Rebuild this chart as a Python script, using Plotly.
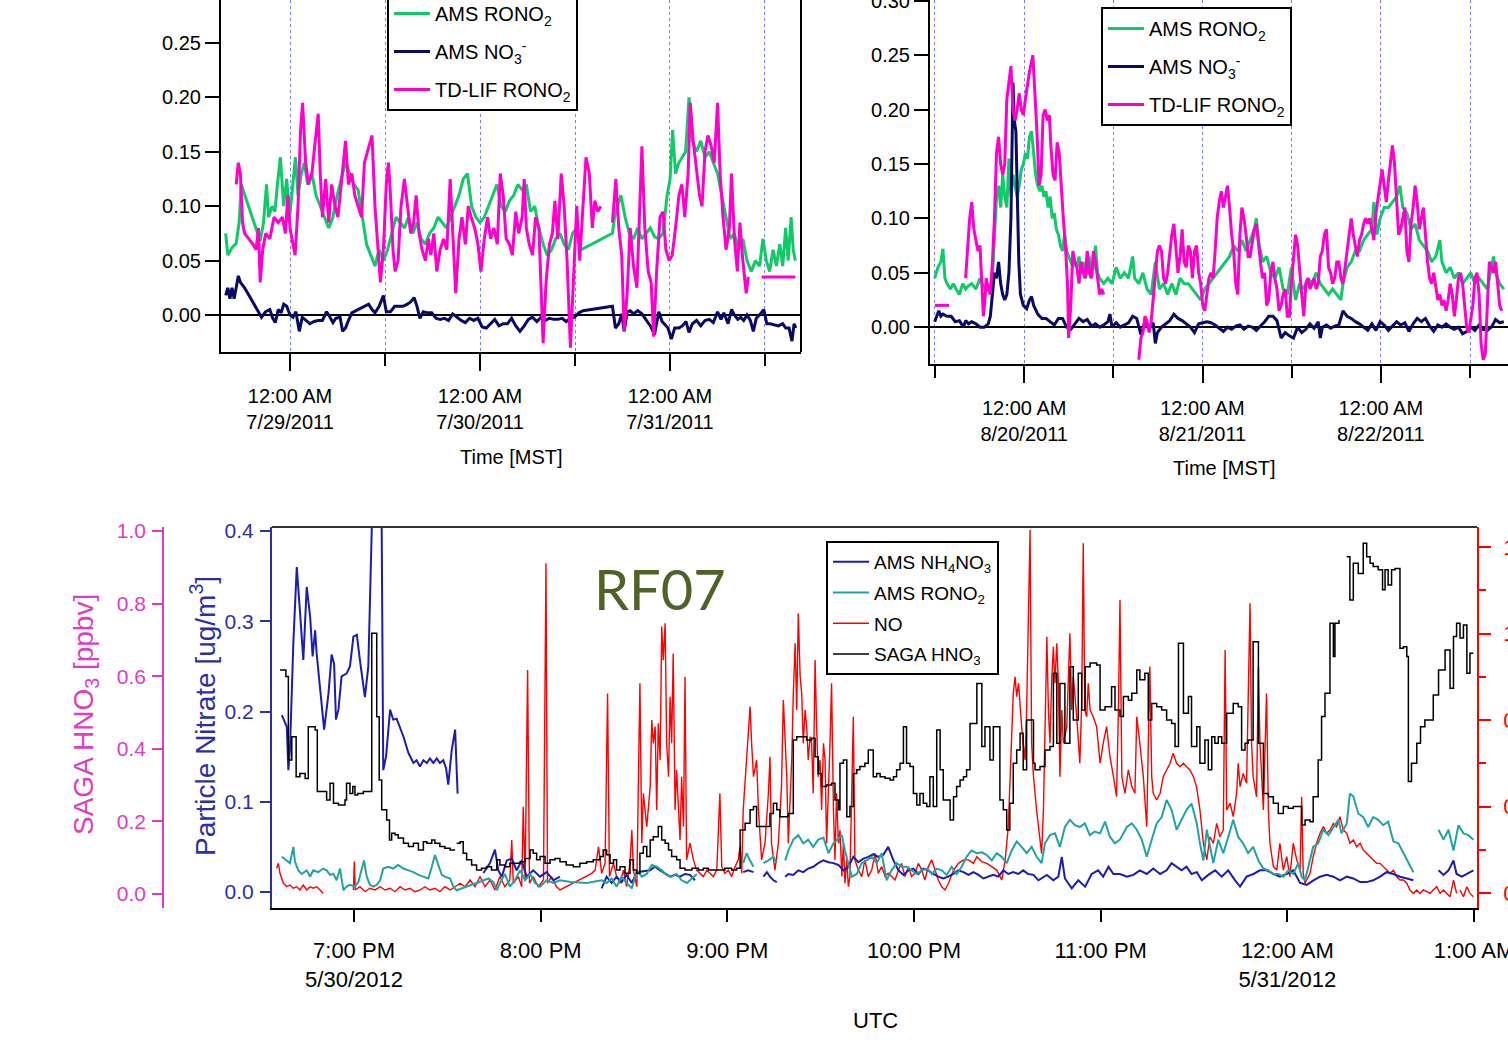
import plotly.graph_objects as go

W, H = 1508, 1045

SANS = "Liberation Sans, Arial, Helvetica, sans-serif"

GREEN = "#10CA68"
NAVY = "#0A0A66"
MAGENTA = "#FF00CC"
GRID = "#7A7AFF"
NH4_BLUE = "#1C1CB0"
TEAL = "#22A3A3"
NO_RED = "#FF0000"
HNO3_BLACK = "#000000"
PINK_AX = "#E03CC2"
BLUE_AX = "#2E2EA6"
RF_GREEN = "#4F6228"

# ---------------------------------------------------------------------------
# July 2011 ground site: hours after 12:00 AM 7/29/2011 (MST), ug/m3
# ---------------------------------------------------------------------------
jul_t_rono2 = [
    -8.13, -7.86, -7.33, -6.80, -6.43, -6.16, -3.77, -3.35, -2.97, -2.71, -2.28, -1.91, -1.59, -1.22, -0.80,
    -0.42, -0.05, 0.37, 0.69, 1.01, 1.43, 1.81, 2.23,
    2.76, 3.29, 3.82, 4.35, 4.89, 5.42, 5.95, 6.48, 7.01, 7.54, 8.07, 8.60, 9.13, 9.67, 10.20, 10.73, 11.26,
    11.79, 12.32, 12.85, 13.38, 13.91, 14.45, 14.98, 15.51, 16.04, 16.57, 17.10, 17.63, 18.16, 18.69, 19.23,
    19.76, 20.29, 20.82, 21.35, 21.88, 22.41, 22.94, 23.47, 24.00, 24.54, 25.07, 25.60, 26.13, 26.66, 27.19,
    27.72, 28.25, 28.78, 29.32, 29.85, 30.38, 30.91, 31.44, 31.97, 32.50, 33.03, 33.56, 34.10, 34.63, 35.16,
    35.69, 36.22, 36.75,
    40.73, 41.00, 41.37, 41.80, 42.33, 42.86, 43.39, 43.92, 44.45, 44.98, 45.51, 46.04, 46.57, 47.11, 47.64,
    48.01, 48.33, 48.70, 49.12, 49.55, 49.97, 50.40, 50.82, 51.35, 51.88, 52.42, 52.95, 53.48, 54.01, 54.54,
    55.07, 55.60, 56.13, 56.67, 57.20, 57.73, 58.26, 58.79, 59.32, 59.74, 60.17, 60.59, 61.02, 61.44, 61.87,
    62.24, 62.61, 62.93, 63.30, 63.57, 63.83,
]
jul_ams_rono2 = [
    0.075, 0.055, 0.062, 0.066, 0.085, 0.12, 0.068, 0.085, 0.12, 0.09, 0.10, 0.095, 0.12, 0.145, 0.10,
    0.125, 0.09, 0.12, 0.145, 0.11, 0.13, 0.14, 0.12,
    0.13, 0.11, 0.10, 0.09, 0.08, 0.09, 0.11, 0.125, 0.14, 0.13, 0.12, 0.115, 0.09, 0.065, 0.055, 0.045, 0.06,
    0.05, 0.06, 0.075, 0.09, 0.085, 0.08, 0.09, 0.075, 0.085, 0.07, 0.065, 0.075, 0.08, 0.09, 0.085,
    0.08, 0.09, 0.10, 0.11, 0.125, 0.13, 0.10, 0.09, 0.085, 0.09, 0.10, 0.11, 0.12, 0.10, 0.095,
    0.105, 0.11, 0.12, 0.115, 0.12, 0.095, 0.10, 0.08, 0.065, 0.055, 0.06, 0.07, 0.075, 0.065, 0.06,
    0.075, 0.08, 0.06,
    0.075, 0.09, 0.10, 0.11, 0.09, 0.075, 0.07, 0.08, 0.07, 0.075, 0.08, 0.072, 0.07, 0.075, 0.11,
    0.125, 0.17, 0.13, 0.14, 0.145, 0.15, 0.20, 0.16, 0.15, 0.16, 0.145, 0.15, 0.14, 0.13, 0.11,
    0.09, 0.07, 0.075, 0.06, 0.07, 0.05, 0.04, 0.05, 0.045, 0.07, 0.05, 0.04, 0.06, 0.045, 0.065,
    0.045, 0.08, 0.05, 0.09, 0.06, 0.05,
]

jul_t_tdlif = [
    -6.80, -6.53, -6.27, -6.00, -5.74, -5.20, -4.67, -4.30, -3.98, -3.77,
    -3.45, -3.08, -2.55, -2.02, -1.49, -0.96, -0.58, -0.27, 0.00, 0.37,
    0.64, 1.01, 1.33, 1.59, 1.97, 2.34, 2.76, 3.19, 3.56, 3.82,
    4.09, 4.51, 4.89, 5.26, 5.68, 6.05, 6.48, 7.01, 7.38, 7.81,
    8.18, 8.60, 9.03, 9.40, 9.93, 10.36, 10.73, 11.10, 11.42, 11.79,
    12.16, 12.43, 12.69, 13.01, 13.28, 13.65, 14.02, 14.45, 14.82, 15.24,
    15.61, 15.93, 16.30, 16.68, 17.10, 17.47, 17.79, 18.16, 18.54, 18.96,
    19.39, 19.81, 20.23, 20.55, 20.93, 21.35, 21.72, 22.15, 22.52, 22.89,
    23.32, 23.74, 24.11, 24.54, 24.96, 25.33, 25.76, 26.18, 26.56, 26.93,
    27.30, 27.72, 28.09, 28.52, 28.89, 29.32, 29.58, 29.85, 30.22, 30.64,
    31.02, 31.44, 31.71, 31.97, 32.34, 32.77, 33.14, 33.46, 33.83, 34.26,
    34.63, 35.00, 35.42, 35.80, 36.22, 36.59, 37.02, 37.39, 37.81, 38.19,
    38.50, 38.88, 39.25,
    40.0,
    40.73, 41.16, 41.53, 41.90, 42.22, 42.59, 42.97, 43.39, 43.82, 44.19,
    44.45, 44.82, 45.25, 45.62, 45.94, 46.31, 46.74, 47.11, 47.48, 47.90,
    48.28, 48.70, 49.13, 49.50, 49.87, 50.29, 50.56, 50.93, 51.36, 51.73,
    52.05, 52.42, 52.79, 53.22, 53.59, 54.01, 54.33, 54.70, 55.08, 55.50,
    55.77, 56.14, 56.51, 56.83, 57.20, 57.63, 57.89,
    58.7,
    59.59, 63.84,
]
jul_tdlif_rono2 = [
    0.12, 0.14, 0.13, 0.085, 0.075, 0.07, 0.065, 0.06, 0.08, 0.03,
    0.06, 0.075, 0.07, 0.09, 0.085, 0.09, 0.075, 0.11, 0.08, 0.065,
    0.055, 0.10, 0.17, 0.195, 0.14, 0.12, 0.13, 0.16, 0.185, 0.13,
    0.09, 0.125, 0.085, 0.12, 0.10, 0.09, 0.12, 0.16, 0.12, 0.13,
    0.11, 0.10, 0.09, 0.14, 0.155, 0.165, 0.10, 0.06, 0.03, 0.06,
    0.12, 0.14, 0.11, 0.06, 0.04, 0.05, 0.10, 0.125, 0.10, 0.075,
    0.085, 0.11, 0.075, 0.06, 0.05, 0.07, 0.055, 0.075, 0.04, 0.06,
    0.07, 0.06, 0.125, 0.08, 0.02, 0.07, 0.09, 0.065, 0.10, 0.09,
    0.08, 0.065, 0.04, 0.07, 0.09, 0.07, 0.08, 0.065, 0.13, 0.11,
    0.07, 0.065, 0.055, 0.095, 0.075, 0.09, 0.125, 0.08, 0.065, 0.055,
    0.09, 0.08, 0.03, -0.026, 0.03, 0.065, 0.075, 0.105, 0.07, 0.13,
    0.10, 0.05, -0.03, 0.03, 0.10, 0.05, 0.10, 0.145, 0.13, 0.08,
    0.105, 0.095, 0.10,
    None,
    0.085, 0.125, 0.08, 0.055, -0.015, 0.02, 0.08, 0.045, 0.025, 0.11,
    0.155, 0.08, 0.04, 0.03, -0.02, 0.04, 0.09, 0.095, 0.06, 0.05,
    0.055, 0.08, 0.11, 0.12, 0.09, 0.13, 0.195, 0.16, 0.13, 0.11,
    0.10, 0.15, 0.165, 0.155, 0.14, 0.195, 0.13, 0.09, 0.06, 0.08,
    0.13, 0.07, 0.04, 0.085, 0.05, 0.02, 0.035,
    None,
    0.035, 0.035,
]

jul_t_no3 = [
    -8.13, -7.86, -7.59, -7.33, -7.06, -6.80, -6.53, -6.27, -5.74, -4.94,
    -4.14, -3.61, -3.08, -2.55, -2.18, -1.86, -1.49, -1.12, -0.80, -0.42,
    0.00, 0.37, 0.74, 1.17, 1.54, 1.97, 2.50, 3.03, 3.56, 4.09,
    4.62, 5.05, 5.42, 5.79, 6.32, 6.64, 7.01, 7.38, 7.81, 8.34,
    8.87, 9.40, 9.93, 10.36, 10.73, 11.26, 11.79, 12.16, 12.69, 13.22,
    13.76, 14.29, 14.82, 15.24, 15.67, 16.04, 16.41, 16.84, 17.37, 17.90,
    18.43, 18.96, 19.49, 20.02, 20.55, 21.08, 21.62, 22.15, 22.68, 23.21,
    23.74, 24.27, 24.80, 25.33, 25.86, 26.40, 26.93, 27.46, 27.99, 28.52,
    29.05, 29.58, 30.11, 30.64, 31.18, 31.71, 32.24, 32.77, 33.30, 33.83,
    34.36, 34.89, 35.42, 35.96, 36.49, 37.02, 38.08, 39.14, 40.20, 40.73,
    41.11, 41.53, 41.90, 42.22, 42.59, 42.97, 43.39, 43.92, 44.45, 44.98,
    45.52, 46.05, 46.58, 47.00, 47.37, 47.75, 48.17, 48.60, 49.13, 49.55,
    50.03, 50.40, 50.83, 51.36, 51.89, 52.42, 52.95, 53.48, 54.01, 54.44,
    54.81, 55.34, 55.77, 56.14, 56.56, 56.93, 57.31, 57.73, 58.15, 58.53,
    58.90, 59.32, 59.85, 60.23, 60.65, 61.18, 61.71, 62.24, 62.62, 63.04,
    63.41, 63.68, 63.89,
]
jul_ams_no3 = [
    0.018, 0.025, 0.015, 0.025, 0.015, 0.025, 0.036, 0.03, 0.025, 0.015,
    0.005, -0.002, 0.003, 0.005, -0.003, -0.007, 0.005, 0.002, 0.01, 0.008,
    0.0, -0.002, 0.003, -0.015, -0.002, -0.005, -0.008, -0.006, -0.005, -0.005,
    0.003, -0.002, -0.007, -0.003, -0.002, -0.015, -0.012, -0.005, 0.002, 0.004,
    0.006, 0.008, 0.01, 0.005, 0.002, 0.008, 0.018, 0.003, 0.003, 0.008,
    0.008, 0.008, 0.01, 0.012, 0.016, 0.008, -0.003, 0.003, 0.002, 0.002,
    -0.003, -0.004, -0.003, -0.005, 0.001, -0.002, -0.005, -0.007, -0.003, -0.005,
    -0.003, -0.011, -0.012, -0.008, -0.004, -0.01, -0.008, -0.008, -0.003, -0.01,
    -0.015, -0.01, -0.004, -0.002, -0.006, -0.002, -0.005, -0.003, -0.004, -0.004,
    -0.003, -0.006, -0.003, -0.002, 0.002, 0.004, 0.005, 0.006, 0.007, 0.008,
    -0.012, -0.008, 0.001, -0.015, 0.003, 0.004, 0.001, 0.004, 0.001, -0.004,
    -0.01, -0.018, 0.003, -0.006, -0.009, -0.012, -0.022, -0.012, -0.012, -0.01,
    -0.006, -0.016, -0.008, -0.005, -0.01, -0.005, -0.004, -0.007, 0.003, -0.004,
    0.002, -0.008, 0.005, 0.0, -0.004, -0.002, -0.005, 0.0, -0.005, -0.015,
    -0.003, 0.0, 0.005, -0.008, -0.008, -0.009, -0.01, -0.008, -0.012, -0.012,
    -0.024, -0.008, -0.012,
]

# ---------------------------------------------------------------------------
# August 2011 ground site: hours after 12:00 AM 8/20/2011 (MST), ug/m3
# ---------------------------------------------------------------------------
aug_t_rono2 = [
    -12.04, -11.60, -11.21, -10.93, -10.66, -10.38, -9.93, -9.55, -9.16, -8.71,
    -8.27, -7.88, -7.49, -7.05, -6.49, -5.94, -5.38, -4.83, -4.38, -4.16,
    -3.94, -3.72,
    -3.44, -3.16, -2.89, -2.61, -2.33, -2.05, -1.78, -1.50, -1.22, -0.94,
    -0.67, -0.39, -0.11, 0.17, 0.44, 0.72, 1.00, 1.28, 1.55, 1.83,
    2.11, 2.39, 2.66, 2.94, 3.22, 3.50, 3.77, 4.05, 4.33, 4.61,
    4.88, 5.16, 5.44, 5.72, 5.99, 6.27, 6.55, 6.83, 7.10, 7.38,
    7.66, 7.94, 8.21, 8.49, 8.77, 9.05, 9.32, 9.60,
    9.88, 10.16, 10.71, 11.27, 11.82, 12.38, 12.93, 13.49, 14.04, 14.60,
    14.87, 15.43, 15.98, 16.54, 17.09, 17.65, 18.20, 18.76, 19.31, 19.87,
    20.42, 20.98, 21.53, 22.09, 22.64, 23.20, 23.75, 24.31, 24.86, 25.42,
    25.97, 26.53, 27.08, 27.64, 28.19, 28.75, 29.30, 29.86, 30.41, 30.97,
    31.25, 31.52, 32.08, 32.63, 33.19, 33.74, 34.30, 34.85, 35.41, 35.96,
    36.52, 37.07, 37.63, 38.18, 38.74, 39.29, 39.85, 40.40, 40.96, 41.51,
    42.07, 42.62, 42.90, 43.46, 44.01, 44.57, 45.12, 45.68, 46.23, 46.79,
    47.06, 47.45, 47.90, 48.45, 49.01, 49.56, 50.12, 50.56, 50.95, 51.50,
    52.06, 52.61, 53.17, 53.72, 54.28, 54.83, 55.39, 55.94, 56.22, 56.78,
    57.33, 57.89, 58.44, 59.00, 59.55, 60.11, 60.66, 61.22, 61.77, 62.33,
    62.88, 63.16, 63.44, 63.99, 64.55,
]
aug_ams_rono2 = [
    0.045, 0.055, 0.06, 0.072, 0.045, 0.04, 0.035, 0.04, 0.035, 0.03,
    0.04, 0.035, 0.038, 0.04, 0.035, 0.045, 0.035, 0.04, 0.03, 0.06,
    0.09, 0.12,
    0.13, 0.11, 0.14, 0.12, 0.11, 0.155, 0.12, 0.14, 0.13, 0.12,
    0.13, 0.145, 0.15, 0.16, 0.155, 0.175, 0.18, 0.16, 0.14, 0.13,
    0.125, 0.13, 0.12, 0.125, 0.11, 0.12, 0.10, 0.105, 0.09, 0.085,
    0.075, 0.07, 0.085, 0.07, 0.065, 0.06, 0.055, 0.06, 0.055, 0.065,
    0.05, 0.06, 0.045, 0.05, 0.065, 0.045, 0.055, 0.075,
    0.05, 0.045, 0.04, 0.045, 0.04, 0.055, 0.045, 0.05, 0.045, 0.065,
    0.045, 0.04, 0.05, 0.035, 0.03, 0.06, 0.035, 0.04, 0.03, 0.04,
    0.03, 0.045, 0.04, 0.04, 0.035, 0.03, 0.025, 0.035, 0.04, 0.045,
    0.05, 0.055, 0.06, 0.065, 0.075, 0.07, 0.08, 0.07, 0.08, 0.09,
    0.10, 0.08, 0.06, 0.065, 0.05, 0.045, 0.055, 0.035, 0.03, 0.055,
    0.025, 0.04, 0.035, 0.045, 0.04, 0.05, 0.04, 0.035, 0.03, 0.035,
    0.03, 0.025, 0.04, 0.055, 0.06, 0.07, 0.07, 0.08, 0.085, 0.09,
    0.115, 0.085, 0.10, 0.11, 0.11, 0.115, 0.12, 0.13, 0.11, 0.105,
    0.09, 0.095, 0.08, 0.075, 0.07, 0.06, 0.065, 0.08, 0.06, 0.05,
    0.055, 0.045, 0.05, 0.04, 0.045, 0.05, 0.04, 0.045, 0.04, 0.035,
    0.055, 0.065, 0.05, 0.04, 0.035,
]

aug_t_tdlif = [
    -12.0, -10.1,
    -9.0,
    -7.88, -7.60, -7.33, -7.05, -6.77, -6.49, -6.22, -5.94, -5.66, -5.49,
    -5.27, -5.11, -4.83, -4.55, -4.27, -4.00, -3.72, -3.44, -3.16, -2.89,
    -2.61, -2.33, -2.05, -1.78, -1.50, -1.22, -0.94, -0.67, -0.39, -0.11,
    0.17, 0.44, 0.72, 1.17, 1.44, 1.72, 2.00, 2.28, 2.55, 2.83,
    3.11, 3.39, 3.61, 3.89, 4.16, 4.44, 4.72, 5.00, 5.27, 5.55,
    5.83, 5.99, 6.27, 6.55, 6.83, 7.10, 7.38, 7.66, 7.94, 8.21,
    8.49, 8.77, 9.05, 9.32, 9.60, 9.88, 10.16, 10.43, 10.71,
    13.0,
    15.43, 15.71, 15.98, 16.26, 16.54, 16.82, 17.09, 17.37, 17.65, 17.93,
    18.20, 18.48, 18.76, 19.04, 19.31, 19.59, 19.87, 20.15, 20.42, 20.70,
    20.98, 21.26, 21.53, 21.81, 22.09, 22.37, 22.64, 22.92, 23.20, 23.48,
    23.75, 24.03, 24.31, 24.59, 24.86, 25.14, 25.42, 25.70, 25.97, 26.25,
    26.53, 26.81, 27.08, 27.36, 27.64, 27.92, 28.19, 28.47, 28.75, 29.03,
    29.30, 29.58, 29.86, 30.14, 30.41, 30.69, 30.97, 31.25, 31.52, 31.80,
    32.08, 32.36, 32.63, 32.91, 33.19, 33.47, 33.74, 34.02, 34.30, 34.58,
    34.85, 35.13, 35.41, 35.69, 35.96, 36.24, 36.52, 36.80, 37.07, 37.35,
    37.63, 37.91, 38.18, 38.46, 38.74, 39.02, 39.29, 39.57, 39.85, 40.13,
    40.40, 40.68, 40.96, 41.24, 41.51, 41.79, 42.07, 42.35, 42.62, 42.90,
    43.18, 43.46, 43.73, 44.01, 44.29, 44.57, 44.84, 45.12, 45.40, 45.68,
    45.95, 46.23, 46.51, 46.79, 47.06, 47.34, 47.62, 47.90, 48.17, 48.45,
    48.73, 49.01, 49.28, 49.56, 49.84, 50.12, 50.39, 50.67, 50.95, 51.23,
    51.50, 51.78, 52.06, 52.34, 52.61, 52.89, 53.17, 53.45, 53.72, 54.00,
    54.28, 54.56, 54.83, 55.11, 55.39, 55.67, 55.94, 56.22, 56.50, 56.78,
    57.05, 57.33, 57.61, 57.89, 58.16, 58.44, 58.72, 59.00, 59.27, 59.55,
    59.83, 60.11, 60.38, 60.66, 60.94, 61.22, 61.49, 61.77, 62.05, 62.33,
    62.60, 62.88, 63.16, 63.44, 63.71, 63.99, 64.27,
]
aug_tdlif_rono2 = [
    0.02, 0.02,
    None,
    0.045, 0.07, 0.10, 0.115, 0.09, 0.08, 0.07, 0.075, 0.03, 0.01,
    0.025, 0.045, 0.035, 0.03, 0.06, 0.10, 0.16, 0.175, 0.15, 0.14,
    0.15, 0.21, 0.225, 0.24, 0.20, 0.19, 0.20, 0.215, 0.20, 0.195,
    0.21, 0.225, 0.235, 0.25, 0.22, 0.18, 0.13, 0.14, 0.195, 0.20,
    0.19, 0.195, 0.165, 0.14, 0.135, 0.17, 0.16, 0.125, 0.10, 0.075,
    0.04, -0.01, 0.02, 0.07, 0.06, 0.055, 0.04, 0.06, 0.05, 0.045,
    0.07, 0.05, 0.045, 0.07, 0.06, 0.045, 0.03, 0.035, 0.03,
    None,
    -0.03, -0.01, -0.005, 0.01, 0.005, -0.005, 0.005, 0.025, 0.045, 0.07,
    0.075, 0.07, 0.045, 0.04, 0.05, 0.07, 0.085, 0.095, 0.07, 0.05,
    0.065, 0.09, 0.06, 0.055, 0.075, 0.07, 0.045, 0.07, 0.075, 0.05,
    0.04, 0.02, 0.015, 0.03, 0.045, 0.05, 0.045, 0.07, 0.10, 0.115,
    0.125, 0.11, 0.12, 0.13, 0.11, 0.085, 0.07, 0.04, 0.03, 0.085,
    0.11, 0.10, 0.085, 0.065, 0.065, 0.08, 0.09, 0.095, 0.075, 0.06,
    0.045, 0.05, 0.02, 0.025, 0.05, 0.06, 0.045, 0.035, 0.015, 0.02,
    0.03, 0.035, 0.01, 0.01, 0.04, 0.06, 0.085, 0.075, 0.05, 0.03,
    0.01, 0.04, 0.045, 0.035, 0.04, 0.045, 0.035, 0.04, 0.065, 0.07,
    0.085, 0.09, 0.055, 0.05, 0.04, 0.045, 0.06, 0.06, 0.045, 0.04,
    0.055, 0.07, 0.085, 0.10, 0.085, 0.075, 0.065, 0.08, 0.085, 0.095,
    0.10, 0.095, 0.10, 0.09, 0.08, 0.105, 0.12, 0.13, 0.145, 0.13,
    0.115, 0.135, 0.15, 0.167, 0.15, 0.12, 0.085, 0.09, 0.10, 0.11,
    0.07, 0.06, 0.095, 0.11, 0.13, 0.115, 0.09, 0.10, 0.11, 0.085,
    0.06, 0.045, 0.04, 0.05, 0.035, 0.025, 0.03, 0.02, 0.025, 0.015,
    0.025, 0.04, 0.03, 0.01, 0.025, 0.045, 0.05, 0.04, 0.02, 0.0,
    -0.005, 0.01, 0.02, 0.045, 0.05, 0.03, -0.015, -0.03, -0.025, 0.02,
    0.06, 0.055, 0.05, 0.06, 0.04, 0.02, 0.015,
]

aug_t_no3 = [
    -12.04, -11.77, -11.49, -11.21, -10.93, -10.38, -9.82, -9.27, -8.71, -8.16,
    -7.88, -7.49, -7.05, -6.49, -5.94, -5.38, -4.83, -4.55, -4.27, -4.00,
    -3.72, -3.44, -3.16, -2.89, -2.61, -2.33, -2.05, -1.78, -1.50, -1.33,
    -1.11, -0.94, -0.72, -0.50, -0.11, 0.33, 0.72, 1.00, 1.28, 1.83,
    2.39, 2.94, 3.50, 4.05, 4.61, 5.16, 5.72, 6.27, 6.83, 7.38,
    7.94, 8.49, 9.05, 9.60, 10.16, 10.71, 11.27, 11.54, 11.82, 12.38,
    12.93, 13.49, 14.04, 14.60, 15.15, 15.71, 16.26, 16.82, 17.37, 17.65,
    17.93, 18.48, 19.04, 19.59, 20.15, 20.70, 21.26, 21.81, 22.37, 22.92,
    23.48, 24.03, 24.59, 25.14, 25.70, 26.25, 26.81, 27.36, 27.92, 28.47,
    29.03, 29.58, 30.14, 30.69, 31.25, 31.80, 32.36, 32.91, 33.47, 34.02,
    34.58, 35.13, 35.69, 36.24, 36.80, 37.35, 37.91, 38.46, 39.02, 39.57,
    39.85, 40.13, 40.68, 41.24, 41.79, 42.35, 42.90, 43.46, 44.01, 44.57,
    45.12, 45.68, 46.23, 46.79, 47.34, 47.90, 48.45, 49.01, 49.56, 50.12,
    50.67, 51.23, 51.78, 52.34, 52.89, 53.45, 54.00, 54.56, 55.11, 55.67,
    56.22, 56.78, 57.33, 57.89, 58.44, 59.00, 59.55, 60.11, 60.66, 61.22,
    61.77, 62.33, 62.88, 63.44, 63.99, 64.55,
]
aug_ams_no3 = [
    0.005, 0.01, 0.015, 0.01, 0.012, 0.01, 0.01, 0.005, 0.006, 0.0,
    0.006, 0.003, 0.005, 0.003, 0.0, 0.0, 0.003, 0.01, 0.03, 0.05,
    0.045, 0.06, 0.04, 0.03, 0.025, 0.03, 0.05, 0.10, 0.225, 0.19,
    0.18, 0.12, 0.06, 0.03, 0.02, 0.017, 0.025, 0.028, 0.02, 0.012,
    0.008, 0.008, 0.005, 0.002, 0.008, 0.008, 0.0, -0.002, 0.003, 0.008,
    0.005, 0.007, 0.001, 0.003, 0.0, 0.002, 0.005, 0.012, 0.0, 0.004,
    0.0, 0.002, 0.004, 0.01, 0.008, -0.007, 0.005, 0.0, 0.004, -0.015,
    -0.005, 0.0, 0.003, 0.006, 0.012, 0.008, 0.006, 0.003, 0.0, -0.005,
    0.003, 0.004, 0.005, 0.004, 0.002, -0.001, -0.004, 0.0, -0.002, 0.001,
    0.002, -0.002, 0.001, 0.0, -0.003, 0.001, 0.005, 0.01, 0.01, 0.006,
    -0.01, -0.005, -0.008, -0.01, 0.0, -0.005, -0.002, 0.003, -0.001, 0.005,
    -0.01, 0.0, 0.002, -0.001, 0.001, 0.002, 0.015, 0.01, 0.008, 0.005,
    0.003, 0.0, -0.003, 0.003, -0.003, 0.005, 0.002, -0.003, 0.001, 0.005,
    0.002, 0.004, -0.004, 0.003, 0.008, 0.005, 0.008, 0.001, -0.004, 0.002,
    0.0, 0.003, 0.0, -0.002, 0.0, -0.006, -0.004, 0.0, -0.003, 0.002,
    -0.002, -0.003, 0.0, 0.007, 0.004, 0.005,
]

# ---------------------------------------------------------------------------
# RF07 flight: minutes after 7:00 PM 5/30/2012 (UTC)
# ---------------------------------------------------------------------------
rf07_min_nh4no3 = [
    -23.2, -21.6, -21.1, -20.6, -19.5, -18.4, -17.4, -16.3, -15.2, -14.1,
    -13.3, -12.5, -12.0, -10.9, -9.6, -8.2, -7.2, -6.4, -5.8, -5.0,
    -4.0, -2.4, -1.3, -0.2, 0.9, 1.9, 3.0, 3.5, 4.6, 5.7,
    6.2, 8.6, 8.9, 9.4, 10.3, 11.6, 12.6, 13.7, 14.8, 15.9,
    17.5, 19.1, 20.1, 21.2, 22.3, 23.4, 24.4, 25.5, 26.6, 27.6,
    28.7, 29.6, 30.3, 31.4, 32.5, 33.3,
    36.0,
    41.6, 43.7, 45.3, 46.4, 47.5, 49.1, 50.7, 52.3, 53.9, 55.5,
    57.6, 59.8, 61.9, 64.1, 66.2,
    70.0,
    79.6, 81.2, 82.8, 84.4, 86.0, 87.6, 89.3, 90.9, 95.2, 96.7,
    98.4, 100.0, 101.6, 103.2, 104.8, 106.4, 108.0, 109.6,
    117.0,
    125.1, 126.7, 128.4,
    130.0,
    131.6, 132.7, 133.7, 134.8, 135.9,
    137.0,
    138.6, 139.6, 141.2, 142.8, 144.4, 146.0, 147.6, 149.2, 150.9, 152.5,
    154.1, 155.7, 157.3, 158.9, 160.5, 162.1, 163.7, 165.3, 166.9, 168.5,
    170.1, 171.7, 173.4, 175.0, 176.6, 178.2, 179.8, 181.4, 183.0, 184.6,
    186.2, 187.8, 189.4, 191.0, 192.6, 194.2, 195.9, 197.5, 199.1, 200.7,
    202.3, 203.9, 205.5, 207.1, 208.7, 210.3, 211.9, 213.5, 215.1, 216.7,
    218.4, 220.0, 222.7, 224.8, 226.4, 227.5, 228.5, 230.7, 232.8, 235.0,
    237.1, 239.2, 240.8, 242.5, 244.1, 246.2, 248.4, 250.5, 252.6, 254.8,
    256.9, 259.1, 261.2, 262.8, 264.4, 266.0, 267.6, 269.2, 270.9, 272.5,
    274.6, 276.8, 278.9, 281.0, 283.2, 284.8, 286.9, 289.1, 291.2, 293.4,
    295.5, 297.6, 299.8, 301.9, 304.1, 306.2, 308.4, 310.5, 312.6, 314.8,
    316.9, 319.1, 321.2, 323.4, 325.5, 327.6, 329.8, 331.9, 334.1, 336.2,
    338.4, 340.5,
    344.0,
    348.6, 350.2, 351.8, 353.4, 354.4, 356.1, 357.7, 359.8,
]
rf07_nh4no3 = [
    0.196, 0.183, 0.135, 0.157, 0.276, 0.360, 0.312, 0.257, 0.338, 0.305,
    0.261, 0.290, 0.264, 0.224, 0.180, 0.220, 0.263, 0.253, 0.191, 0.202,
    0.239, 0.242, 0.250, 0.283, 0.285, 0.257, 0.224, 0.216, 0.250, 0.401,
    0.47, 0.47, 0.401, 0.135, 0.150, 0.202, 0.191, 0.192, 0.183, 0.172,
    0.154, 0.143, 0.146, 0.139, 0.146, 0.143, 0.148, 0.143, 0.148, 0.143,
    0.146, 0.137, 0.119, 0.157, 0.180, 0.109,
    None,
    0.021, 0.032, 0.047, 0.024, 0.017, 0.035, 0.037, 0.024, 0.035, 0.017,
    0.024, 0.017, 0.022, 0.013, 0.017,
    None,
    0.004, 0.017, 0.010, 0.017, 0.011, 0.019, 0.010, 0.022, 0.024, 0.028,
    0.024, 0.020, 0.017, 0.019, 0.017, 0.020, 0.019, 0.013,
    None,
    0.022, 0.024, 0.022,
    None,
    0.017, 0.022, 0.017, 0.013, 0.011,
    None,
    0.017, 0.020, 0.019, 0.024, 0.022, 0.026, 0.028, 0.032, 0.035, 0.033,
    0.032, 0.030, 0.024, 0.028, 0.039, 0.033, 0.037, 0.039, 0.042, 0.039,
    0.041, 0.050, 0.035, 0.024, 0.019, 0.024, 0.026, 0.020, 0.026, 0.024,
    0.020, 0.017, 0.015, 0.017, 0.020, 0.024, 0.022, 0.019, 0.022, 0.019,
    0.015, 0.017, 0.019, 0.017, 0.024, 0.020, 0.022, 0.020, 0.024, 0.020,
    0.019, 0.013, 0.019, 0.013, 0.017, 0.039, 0.015, 0.004, 0.013, 0.006,
    0.020, 0.024, 0.017, 0.028, 0.020, 0.020, 0.017, 0.019, 0.024, 0.020,
    0.026, 0.020, 0.024, 0.032, 0.028, 0.024, 0.028, 0.020, 0.022, 0.013,
    0.019, 0.024, 0.017, 0.024, 0.013, 0.006, 0.017, 0.020, 0.024, 0.024,
    0.020, 0.017, 0.020, 0.024, 0.010, 0.008, 0.013, 0.017, 0.019, 0.017,
    0.013, 0.017, 0.015, 0.011, 0.011, 0.013, 0.017, 0.022, 0.020, 0.017,
    0.015, 0.013,
    None,
    0.024, 0.019, 0.024, 0.035, 0.020, 0.017, 0.020, 0.024,
]

rf07_min_rono2 = [
    -23.2, -21.6, -20.6, -19.5, -19.0, -17.9, -16.8, -15.2, -14.1, -13.1,
    -11.5, -9.9, -8.8, -7.7, -6.6, -5.6, -4.5, -3.4, -2.4, -1.3,
    0.3, 1.4, 2.5, 3.2, 4.1, 5.1, 6.2, 7.3, 8.4, 9.4,
    11.0, 12.6, 14.2, 15.9, 17.5, 19.1, 20.7, 22.3, 23.9, 25.0,
    26.0, 27.1, 28.2, 29.2, 30.9, 31.9, 33.0, 39.4, 41.6, 43.2,
    44.8, 45.9, 46.9, 48.5, 50.1, 51.7, 53.4, 55.0, 56.6, 58.2,
    59.8, 61.9, 64.1, 66.2, 69.6, 74.8, 79.6, 81.2, 82.8, 84.4,
    86.0, 87.6, 89.3, 90.9, 92.5, 94.1, 95.7, 97.3, 98.9, 100.5,
    102.1, 103.7, 105.3, 107.0, 108.6, 110.2,
    117.0,
    125.1, 126.2, 127.3, 128.4,
    130.0,
    131.6, 133.2, 134.8, 135.9,
    137.0,
    138.6, 139.6, 141.2, 142.8, 144.4, 146.0, 147.6, 149.2, 150.9, 152.5,
    154.1, 155.7, 156.8, 157.8, 158.9, 160.0, 161.6, 163.2, 164.8, 166.4,
    168.0, 169.6, 171.2, 172.8, 174.4, 176.0, 177.6, 179.2, 180.9, 182.5,
    184.1, 185.7, 187.3, 188.9, 190.5, 192.1, 193.7, 195.3, 196.9, 198.5,
    200.2, 201.8, 203.4, 205.0, 206.6, 208.2, 209.8, 211.4, 213.0, 214.6,
    216.2, 217.8, 219.4, 221.0, 222.1, 223.7, 225.3, 226.9, 228.5, 230.1,
    231.7, 233.3, 234.9, 236.5, 238.1, 239.8, 241.4, 243.0, 244.6, 246.2,
    248.4, 250.0, 251.6, 253.2, 254.8, 256.4, 258.0, 259.6, 261.2, 262.8,
    264.4, 266.0, 267.6, 269.2, 270.9, 271.9, 273.0, 274.1, 275.1, 276.2,
    277.8, 279.4, 281.0, 282.6, 284.2, 285.8, 287.4, 289.0, 290.7, 292.3,
    293.9, 295.5, 297.1, 298.7, 300.3, 301.9, 303.5, 304.6, 305.7, 306.7,
    308.3, 309.9, 311.6, 313.2, 314.8, 316.4, 317.4, 319.1, 320.1, 321.2,
    322.8, 324.4, 326.0, 327.6, 329.2, 330.8, 332.4, 334.1, 335.7, 337.3,
    338.9, 340.5,
    344.0,
    348.6, 350.2, 351.8, 353.4, 355.0, 356.6, 358.2, 359.8,
]
rf07_rono2 = [
    0.039, 0.034, 0.032, 0.050, 0.034, 0.024, 0.020, 0.024, 0.017, 0.024,
    0.022, 0.026, 0.024, 0.019, 0.020, 0.013, 0.026, 0.002, 0.006, 0.008,
    0.006, 0.011, 0.024, 0.035, 0.017, 0.008, 0.006, 0.008, 0.013, 0.026,
    0.028, 0.026, 0.030, 0.026, 0.024, 0.022, 0.019, 0.017, 0.015, 0.028,
    0.041, 0.030, 0.019, 0.017, 0.015, 0.006, 0.002, 0.010, 0.013, 0.015,
    0.011, 0.002, 0.010, 0.020, 0.006, 0.013, 0.024, 0.013, 0.020, 0.010,
    0.006, 0.013, 0.010, 0.013, 0.011, 0.010, 0.013, 0.010, 0.015, 0.006,
    0.017, 0.010, 0.004, 0.024, 0.017, 0.020, 0.030, 0.028, 0.024, 0.019,
    0.017, 0.020, 0.013, 0.010, 0.015, 0.020,
    None,
    0.032, 0.043, 0.035, 0.028,
    None,
    0.032, 0.035, 0.039, 0.032,
    None,
    0.035, 0.046, 0.058, 0.063, 0.054, 0.058, 0.050, 0.058, 0.060, 0.043,
    0.054, 0.060, 0.063, 0.046, 0.032, 0.017, 0.020, 0.032, 0.035, 0.039,
    0.032, 0.043, 0.013, 0.024, 0.032, 0.028, 0.028, 0.024, 0.020, 0.024,
    0.026, 0.020, 0.026, 0.024, 0.019, 0.028, 0.020, 0.028, 0.039, 0.046,
    0.043, 0.044, 0.041, 0.035, 0.043, 0.039, 0.032, 0.046, 0.056, 0.050,
    0.043, 0.050, 0.039, 0.032, 0.054, 0.063, 0.065, 0.050, 0.072, 0.080,
    0.074, 0.072, 0.076, 0.063, 0.067, 0.065, 0.078, 0.061, 0.054, 0.058,
    0.072, 0.076, 0.069, 0.058, 0.039, 0.058, 0.076, 0.083, 0.102, 0.091,
    0.069, 0.080, 0.091, 0.098, 0.076, 0.054, 0.035, 0.069, 0.050, 0.032,
    0.058, 0.043, 0.061, 0.080, 0.061, 0.054, 0.043, 0.050, 0.035, 0.026,
    0.024, 0.020, 0.020, 0.017, 0.024, 0.020, 0.032, 0.017, 0.013, 0.028,
    0.050, 0.054, 0.069, 0.063, 0.072, 0.080, 0.065, 0.076, 0.109, 0.106,
    0.087, 0.083, 0.072, 0.083, 0.080, 0.074, 0.078, 0.056, 0.054, 0.043,
    0.032, 0.022,
    None,
    0.069, 0.058, 0.069, 0.046, 0.074, 0.065, 0.063, 0.058,
]

rf07_min_no = [
    -24.9, -24.3, -23.8, -23.2, -22.7, -21.6, -20.6, -19.5, -18.4, -17.4,
    -16.3, -15.2, -14.1, -13.1, -12.0, -10.9, -9.9,
    -5.0,
    -0.2, 0.1, 0.4, 1.9, 3.5, 5.1, 6.7, 8.4, 10.0, 11.6,
    13.2, 14.8, 16.4, 18.0, 19.6, 21.2, 22.8, 24.4, 26.0, 27.6,
    29.2, 30.9, 32.5, 34.1, 35.7, 37.3, 38.9, 40.5, 42.1, 43.7,
    45.3, 46.9, 48.5, 50.1, 50.7, 51.2, 52.8, 53.9, 54.4, 55.0,
    55.8, 56.4, 57.6, 59.2, 60.9, 61.7, 62.2, 63.5, 65.1, 66.2,
    76.4, 77.5, 78.6, 79.6, 80.7, 81.5, 82.1, 83.4, 84.4, 85.5,
    86.6, 87.6, 88.7, 89.3, 89.8, 90.9, 91.9, 92.5, 93.0, 94.1,
    95.2, 95.7, 96.2, 96.8, 97.3, 97.8, 98.4, 98.9, 99.4, 100.0,
    100.5, 101.1, 101.6, 102.1, 102.6, 103.2, 103.7, 104.8, 105.3, 105.9,
    106.4, 106.9, 108.0, 109.1, 110.1, 111.2, 112.3, 113.4, 114.4, 115.5,
    116.6, 117.6, 118.2, 119.2, 120.3, 121.4, 122.5, 123.5, 124.1, 124.6,
    125.1, 126.2, 127.3, 127.8, 128.4, 129.4, 130.0, 131.0, 132.1, 133.2,
    133.7, 134.2, 135.3, 136.4, 137.4, 138.0, 139.1, 139.6, 140.7, 141.2,
    141.8, 142.3, 142.8, 143.4, 143.9, 144.4, 145.0, 145.5, 146.0, 146.6,
    147.1, 147.6, 148.2, 148.7, 149.2, 149.8, 150.3, 150.9, 151.4, 151.9,
    152.5, 153.0, 153.5, 154.1, 154.6, 155.1, 155.7, 156.2, 156.8, 157.3,
    157.8, 158.4, 158.9, 159.4, 160.5, 161.0, 162.1, 163.2, 164.2, 165.3,
    166.4, 167.5, 168.5, 169.6, 170.7, 171.7, 172.8, 173.9, 175.0, 176.0,
    177.1, 178.2, 179.2, 180.3, 181.4, 182.5, 183.5, 184.6, 185.7, 186.8,
    187.8, 188.9, 190.0, 191.1, 192.7, 194.3, 195.9, 197.5, 199.1, 200.2,
    201.8, 203.4, 205.0, 206.6, 208.2, 209.3, 210.3, 211.4, 211.9, 212.5,
    213.0, 213.6, 214.1, 214.6, 215.1, 215.7, 216.2, 216.7, 217.3, 217.8,
    218.4, 219.4, 220.5, 221.0, 221.6, 222.1, 222.7, 223.2, 223.7, 224.3,
    224.8, 225.3, 225.9, 226.4, 226.9, 227.5, 228.0, 229.1, 230.1, 230.7,
    231.2, 232.3, 233.3, 233.9, 234.4, 234.9, 235.5, 236.0, 236.6, 237.6,
    238.7, 239.8, 240.8, 241.9, 243.0, 244.1, 245.1, 245.7, 246.2, 246.8,
    247.8, 248.9, 250.0, 251.0, 251.6, 252.6, 253.7, 254.8, 255.8, 256.4,
    256.9, 258.0, 259.1, 260.1, 261.2, 262.3, 263.3, 264.4, 265.5, 266.6,
    267.6, 268.7, 269.8, 270.8, 271.9, 273.0, 274.1, 275.1, 276.2, 277.3,
    278.3, 279.4, 280.0, 280.5, 281.6, 282.6, 283.7, 284.2, 284.8, 285.8,
    286.9, 288.0, 288.5, 289.0, 290.1, 290.7, 291.2, 292.3, 293.3, 293.9,
    294.4, 295.5, 296.6, 297.6, 298.7, 299.8, 300.8, 301.9, 303.0, 304.1,
    304.6, 305.1, 305.7, 307.3, 308.3, 309.4, 310.5, 311.6, 312.6, 313.7,
    314.8, 315.8, 316.9, 318.0, 319.1, 320.1, 321.2, 322.3, 323.4, 324.4,
    325.5, 326.6, 327.6, 328.7, 329.8, 330.8, 331.9, 333.0, 334.1, 335.1,
    336.2, 337.3, 338.4, 339.4, 340.5, 341.6, 342.6, 343.7, 344.8, 345.9,
    346.9, 348.0, 349.1, 350.2, 351.2, 352.3, 353.4, 354.4,
    355.0,
    355.5, 356.6, 357.7, 358.7, 359.8,
]
rf07_no = [
    0.114, 0.137, 0.091, 0.060, 0.045, 0.029, 0.037, 0.022, 0.029, 0.014,
    0.037, 0.014, 0.029, 0.022, 0.029, 0.014, -0.002,
    None,
    0.014, 0.145, 0.014, 0.029, 0.006, 0.022, 0.014, 0.029, 0.014, 0.022,
    0.006, 0.029, 0.014, 0.022, 0.006, 0.014, 0.029, 0.014, 0.022, 0.006,
    0.029, 0.014, 0.029, 0.045, 0.029, 0.060, 0.029, 0.076, 0.029, 0.060,
    0.014, 0.076, 0.029, 0.060, 0.245, 0.045, 0.076, 0.029, 0.399, 0.060,
    1.031, 0.045, 0.076, 0.029, 0.060, 1.525, 0.045, 0.076, 0.029, 0.014,
    0.091, 0.106, 0.214, 0.091, 0.137, 0.923, 0.076, 0.137, 0.076, 0.045,
    0.106, 0.029, 0.137, 0.291, 0.106, 0.029, 0.970, 0.230, 0.461, 0.307,
    0.492, 0.800, 0.692, 0.769, 0.384, 0.785, 0.615, 1.232, 1.077, 1.247,
    0.692, 0.538, 0.908, 0.692, 1.108, 0.384, 0.569, 0.245, 0.538, 0.307,
    1.000, 0.153, 0.230, 0.153, 0.106, 0.091, 0.076, 0.106, 0.091, 0.076,
    0.106, 0.461, 0.122, 0.091, 0.106, 0.076, 0.122, 0.153, 0.214, 0.091,
    0.384, 0.615, 0.862, 0.692, 0.538, 0.615, 0.384, 0.153, 0.230, 0.461,
    0.630, 0.230, 0.106, 0.230, 0.492, 0.892, 0.538, 0.230, 0.615, 0.923,
    1.155, 0.846, 1.293, 1.000, 0.923, 0.692, 0.846, 0.769, 0.615, 0.723,
    0.692, 0.461, 1.077, 0.769, 0.538, 0.615, 0.384, 0.692, 0.615, 0.230,
    0.461, 0.692, 0.970, 0.384, 0.153, 0.461, 0.230, 0.291, 0.076, 0.230,
    0.045, 0.153, 0.029, 0.076, 0.815, 0.153, 0.106, 0.076, 0.153, 0.076,
    0.106, 0.183, 0.091, 0.122, 0.076, 0.091, 0.076, 0.060, 0.106, 0.137,
    0.076, 0.122, 0.076, 0.091, 0.137, 0.106, 0.060, 0.122, 0.153, 0.106,
    0.060, 0.029, 0.014, 0.045, 0.106, 0.137, 0.153, 0.153, 0.137, 0.168,
    0.145, 0.137, 0.122, 0.106, 0.060, 0.153, 0.307, 0.692, 0.923, 1.000,
    0.908, 0.970, 0.846, 0.769, 0.692, 0.615, 0.846, 1.232, 1.679, 0.692,
    0.538, 0.384, 0.230, 0.183, 0.384, 0.769, 1.185, 0.846, 0.692, 1.000,
    1.139, 0.970, 1.155, 0.970, 0.538, 0.846, 0.692, 0.769, 1.201, 0.846,
    1.000, 0.815, 0.600, 0.877, 1.617, 0.846, 0.815, 0.970, 0.846, 0.815,
    0.769, 0.600, 0.692, 0.769, 0.630, 0.538, 0.445, 0.846, 1.355, 0.538,
    0.461, 0.569, 0.492, 0.461, 0.815, 0.692, 0.538, 0.307, 1.047, 0.538,
    0.461, 0.430, 0.461, 0.538, 0.569, 0.600, 0.646, 0.600, 0.584, 0.600,
    0.584, 0.569, 0.538, 0.492, 0.384, 0.230, 0.153, 0.260, 0.230, 0.322,
    0.260, 0.291, 1.124, 0.384, 0.415, 0.353, 0.461, 0.600, 0.492, 0.553,
    0.507, 1.340, 0.692, 0.538, 0.445, 1.047, 0.692, 0.384, 0.923, 0.384,
    0.230, 0.122, 0.106, 0.230, 0.106, 0.168, 0.076, 0.230, 0.153, 0.106,
    0.445, 0.091, 0.045, 0.091, 0.168, 0.230, 0.276, 0.307, 0.276, 0.291,
    0.322, 0.307, 0.353, 0.291, 0.276, 0.230, 0.245, 0.214, 0.230, 0.199,
    0.183, 0.168, 0.153, 0.137, 0.137, 0.122, 0.106, 0.091, 0.106, 0.076,
    0.060, 0.060, 0.045, 0.014, -0.002, 0.014, -0.002, 0.014, 0.006, -0.002,
    0.014, 0.029, -0.002, 0.014, -0.002, -0.017, 0.060, -0.002,
    None,
    0.014, -0.017, 0.029, -0.002, -0.017,
]

rf07_min_hno3 = [
    -23.8, -21.9, -21.1, -20.0, -18.6, -17.4, -15.7, -14.7, -12.5, -11.8,
    -8.8, -7.7, -6.6, -5.0, -2.9, -2.4, -1.3, -0.4, 0.3, 1.2,
    3.0, 5.7, 7.3, 8.1, 8.9, 10.5, 11.4, 12.1, 13.2, 14.2,
    15.9, 17.5, 19.1, 20.7, 22.3, 23.4, 25.0, 26.0, 27.6, 29.2,
    30.9, 32.5,
    32.8,
    33.0, 34.1, 35.1, 36.2, 37.8, 39.4, 41.0, 42.6, 44.2, 45.9,
    46.9, 48.5, 50.1, 51.7, 53.4, 55.0, 56.6, 57.6, 58.7, 59.8,
    61.4, 63.0, 64.6, 66.2, 68.2, 70.5, 72.6, 74.8, 76.9, 79.1,
    80.1, 81.2, 82.3, 83.4, 84.4, 85.5, 87.1, 88.7, 89.8, 90.9,
    91.9, 93.0, 94.1, 95.2, 96.2, 97.8, 98.9, 100.0, 101.1, 102.1,
    103.7, 104.8, 106.4, 108.6, 110.7, 112.3, 113.9, 119.2, 121.4, 123.0,
    124.1, 125.7, 127.3, 128.4, 129.4, 133.7, 134.8, 135.9, 136.9, 139.6,
    141.2, 142.3, 145.5, 147.1, 148.2, 149.2, 150.3, 151.9, 153.5, 154.6,
    155.7, 156.2, 157.3, 158.4, 159.4, 160.5, 161.6, 162.6, 164.2, 165.3,
    166.4, 166.9, 168.0, 169.1, 170.7, 172.3, 173.4, 174.4, 175.5, 176.6,
    177.6, 178.7, 179.8, 180.9, 181.9, 183.0, 184.1, 185.1, 186.2, 187.3,
    188.4, 189.4, 191.6, 192.7, 193.7, 194.8, 195.9, 196.9, 198.0, 200.2,
    201.8, 202.8, 204.4, 205.5, 207.6, 208.7, 209.8, 210.8, 211.9, 213.0,
    214.1, 215.1, 216.2, 218.4, 218.9, 220.5, 222.1, 223.7, 224.8, 225.9,
    226.9, 228.5, 230.1, 231.2, 232.8, 233.9, 235.0, 236.6, 238.7, 239.8,
    241.4, 243.5, 244.6, 246.2, 247.3, 248.9, 250.0, 251.6, 252.6, 254.2,
    255.3, 256.4, 258.0, 259.6, 261.2, 262.8, 263.9, 265.0, 266.6, 268.2,
    269.2, 270.9, 271.9, 273.5, 274.6, 275.7, 276.7, 277.8, 278.9, 280.5,
    282.6, 284.2, 285.3, 286.4, 287.4, 289.0, 290.7, 292.3, 293.9, 295.5,
    297.1, 298.7, 300.3, 301.9, 304.6, 305.7, 307.3, 308.3, 309.9, 311.0,
    312.1, 313.7, 314.8, 315.3, 316.6,
    317.5,
    319.1, 320.1, 321.2, 322.8, 324.4, 325.5, 326.6, 327.6, 329.2, 330.6,
    331.4, 332.4, 333.5, 334.6, 336.2, 337.3, 338.4, 338.9, 339.9, 341.6,
    342.8, 344.2, 346.9, 348.6, 350.7, 352.3, 353.4, 354.4, 355.5, 356.6,
    357.7, 358.7, 359.8,
]
rf07_hno3 = [
    0.617, 0.599, 0.369, 0.433, 0.323, 0.332, 0.318, 0.461, 0.452, 0.282,
    0.259, 0.305, 0.250, 0.245, 0.259, 0.305, 0.277, 0.296, 0.273, 0.277,
    0.282, 0.718, 0.488, 0.314, 0.232, 0.204, 0.149, 0.167, 0.163, 0.154,
    0.140, 0.131, 0.140, 0.121, 0.144, 0.140, 0.149, 0.140, 0.131, 0.126,
    0.121, 0.121,
    None,
    0.140, 0.144, 0.112, 0.094, 0.080, 0.066, 0.071, 0.075, 0.066, 0.094,
    0.080, 0.075, 0.085, 0.085, 0.089, 0.098, 0.121, 0.112, 0.094, 0.103,
    0.085, 0.094, 0.098, 0.089, 0.080, 0.075, 0.085, 0.089, 0.094, 0.103,
    0.121, 0.108, 0.085, 0.094, 0.066, 0.075, 0.057, 0.094, 0.066, 0.057,
    0.112, 0.131, 0.103, 0.149, 0.158, 0.186, 0.149, 0.140, 0.121, 0.103,
    0.094, 0.071, 0.066, 0.071, 0.066, 0.071, 0.066, 0.071, 0.066, 0.071,
    0.176, 0.195, 0.232, 0.241, 0.186, 0.222, 0.250, 0.232, 0.213, 0.222,
    0.424, 0.433, 0.424, 0.429, 0.378, 0.332, 0.296, 0.300, 0.305, 0.259,
    0.232, 0.360, 0.369, 0.213, 0.241, 0.332, 0.342, 0.351, 0.360, 0.397,
    0.397, 0.323, 0.332, 0.323, 0.319, 0.314, 0.323, 0.342, 0.360, 0.461,
    0.360, 0.351, 0.277, 0.245, 0.277, 0.250, 0.241, 0.323, 0.241, 0.452,
    0.342, 0.259, 0.204, 0.268, 0.296, 0.314, 0.323, 0.342, 0.470, 0.580,
    0.406, 0.461, 0.369, 0.461, 0.259, 0.232, 0.176, 0.250, 0.360, 0.397,
    0.443, 0.342, 0.479, 0.360, 0.342, 0.351, 0.397, 0.406, 0.608, 0.415,
    0.580, 0.415, 0.626, 0.479, 0.608, 0.507, 0.626, 0.636, 0.631, 0.507,
    0.516, 0.571, 0.507, 0.489, 0.544, 0.534, 0.553, 0.617, 0.590, 0.608,
    0.479, 0.525, 0.516, 0.507, 0.479, 0.470, 0.406, 0.691, 0.498, 0.544,
    0.406, 0.461, 0.360, 0.424, 0.342, 0.433, 0.415, 0.433, 0.415, 0.498,
    0.525, 0.516, 0.397, 0.415, 0.424, 0.695, 0.415, 0.277, 0.268, 0.250,
    0.222, 0.241, 0.236, 0.241, 0.190, 0.204, 0.199, 0.268, 0.369, 0.489,
    0.553, 0.746, 0.654, 0.746, 0.755,
    None,
    0.929, 0.810, 0.911, 0.883, 0.966, 0.929, 0.911, 0.902, 0.893, 0.838,
    0.893, 0.851, 0.893, 0.897, 0.677, 0.681, 0.654, 0.310, 0.360, 0.415,
    0.461, 0.479, 0.548, 0.617, 0.672, 0.567, 0.709, 0.746, 0.705, 0.741,
    0.608, 0.663, 0.663,
]

# tick labels
jul_ticktext = ["12:00 AM<br>7/29/2011", "12:00 AM<br>7/30/2011", "12:00 AM<br>7/31/2011"]
aug_ticktext = ["12:00 AM<br>8/20/2011", "12:00 AM<br>8/21/2011", "12:00 AM<br>8/22/2011"]
rf07_ticktext = ["7:00 PM<br>5/30/2012", "8:00 PM", "9:00 PM", "10:00 PM", "11:00 PM",
                 "12:00 AM<br>5/31/2012", "1:00 AM"]


def fx(px):
    return px / W


def fy(py):
    return 1 - py / H


fig = go.Figure()


def add_line(x, y, name, color, width, xa, ya, legend, group, rank=None, shape="linear"):
    fig.add_trace(go.Scatter(x=x, y=y, mode="lines", name=name,
                             line=dict(color=color, width=width, shape=shape),
                             xaxis=xa, yaxis=ya, legend=legend, legendgroup=group,
                             legendrank=rank if rank is not None else 1000))


# ---- July panel ----
add_line(jul_t_rono2, jul_ams_rono2, "AMS RONO<sub>2</sub>", GREEN, 3, "x", "y", "legend", "j1")
add_line(jul_t_no3, jul_ams_no3, "AMS NO<sub>3</sub><sup>-</sup>", NAVY, 3, "x", "y", "legend", "j2")
add_line(jul_t_tdlif, jul_tdlif_rono2, "TD-LIF RONO<sub>2</sub>", MAGENTA, 3, "x", "y", "legend", "j3")

# ---- August panel ----
add_line(aug_t_rono2, aug_ams_rono2, "AMS RONO<sub>2</sub>", GREEN, 3, "x2", "y2", "legend2", "a1")
add_line(aug_t_no3, aug_ams_no3, "AMS NO<sub>3</sub><sup>-</sup>", NAVY, 3, "x2", "y2", "legend2", "a2")
add_line(aug_t_tdlif, aug_tdlif_rono2, "TD-LIF RONO<sub>2</sub>", MAGENTA, 3, "x2", "y2", "legend2", "a3")

# ---- RF07 flight panel (NO underneath, HNO3 on top) ----
add_line(rf07_min_no, rf07_no, "NO", NO_RED, 1.4, "x3", "y3", "legend3", "r3", rank=3)
add_line(rf07_min_nh4no3, rf07_nh4no3, "AMS NH<sub>4</sub>NO<sub>3</sub>", NH4_BLUE, 2, "x3", "y4",
         "legend3", "r1", rank=1)
add_line(rf07_min_rono2, rf07_rono2, "AMS RONO<sub>2</sub>", TEAL, 2, "x3", "y4", "legend3", "r2", rank=2)
add_line(rf07_min_hno3, rf07_hno3, "SAGA HNO<sub>3</sub>", HNO3_BLACK, 1.5, "x3", "y5", "legend3", "r4",
         rank=4, shape="hv")

tick_font = dict(family=SANS, size=20, color="black")
grid_minor = dict(tick0=12, dtick=24, ticks="outside", ticklen=12, tickwidth=2, tickcolor="black",
                  showgrid=True, gridcolor=GRID, griddash="dot", gridwidth=1)


def time_axis(domain, anchor, rng, ticktext):
    return dict(domain=domain, anchor=anchor, range=rng, tickmode="array", tickvals=[0, 24, 48],
                ticktext=ticktext, ticks="outside", ticklen=17, tickwidth=2, tickcolor="black",
                showline=True, linecolor="black", linewidth=2, zeroline=False,
                showgrid=True, gridcolor=GRID, griddash="dot", gridwidth=1,
                minor=grid_minor, tickfont=tick_font, ticklabelstandoff=8, automargin=False)


def conc_axis(domain, anchor, rng, top):
    vals = [round(0.05 * i, 2) for i in range(int(round(top / 0.05)) + 1)]
    return dict(domain=domain, anchor=anchor, range=rng, tickmode="array", tickvals=vals,
                ticktext=["%.2f" % v for v in vals], ticks="outside", ticklen=14, tickwidth=2,
                tickcolor="black", showline=True, linecolor="black", linewidth=2,
                showgrid=False, zeroline=True, zerolinecolor="black", zerolinewidth=2,
                tickfont=tick_font, ticklabelstandoff=0, automargin=False,
                ticklabeloverflow="allow")


legend_style = dict(bgcolor="white", bordercolor="black", borderwidth=2,
                    font=dict(family=SANS, size=20, color="black"),
                    xanchor="left", yanchor="top", itemwidth=36, tracegroupgap=9)

fig.update_layout(
    width=W, height=H, autosize=False,
    margin=dict(l=0, r=0, t=0, b=0, autoexpand=False),
    paper_bgcolor="white", plot_bgcolor="white",
    showlegend=True,
    xaxis=time_axis([fx(221), fx(801)], "y", [-8.72, 64.55], jul_ticktext),
    yaxis=conc_axis([fy(352), 1.0], "x", [-0.034, 0.2895], 0.25),
    xaxis2=time_axis([fx(930), 1.0], "y2", [-12.67, 65.11], aug_ticktext),
    yaxis2=conc_axis([fy(364), 1.0], "x2", [-0.0339, 0.3008], 0.30),
    xaxis3=dict(domain=[fx(272), fx(1477)], anchor="y3", range=[-26.36, 360.96],
                tickmode="array", tickvals=[0, 60, 120, 180, 240, 300, 360], ticktext=rf07_ticktext,
                ticks="outside", ticklen=12, tickwidth=1.5, tickcolor="black",
                showline=True, linecolor="black", linewidth=2, showgrid=False, zeroline=False,
                tickfont=dict(family=SANS, size=22, color="black"), ticklabelstandoff=10,
                automargin=False, ticklabeloverflow="allow"),
    yaxis3=dict(domain=[fy(908), fy(527)], anchor="x3", side="right", range=[-0.0694, 1.6925],
                tickmode="array", tickvals=[0, 0.4, 0.8, 1.2, 1.6],
                ticktext=["0.0", "0.4", "0.8", "1.2", "1.6"],
                ticks="outside", ticklen=12, tickwidth=1.5, tickcolor=NO_RED,
                minor=dict(tick0=0.2, dtick=0.4, ticks="outside", ticklen=7, tickwidth=1.5, tickcolor=NO_RED),
                showline=True, linecolor=NO_RED, linewidth=1.5, showgrid=False, zeroline=False,
                tickfont=dict(family=SANS, size=22, color=NO_RED), ticklabelstandoff=8,
                automargin=False, ticklabeloverflow="allow"),
    yaxis4=dict(overlaying="y3", anchor="x3", side="left", range=[-0.0177, 0.4044],
                tickmode="array", tickvals=[0, 0.1, 0.2, 0.3, 0.4],
                ticktext=["0.0", "0.1", "0.2", "0.3", "0.4"],
                ticks="outside", ticklen=10, tickwidth=1.5, tickcolor=BLUE_AX,
                showline=True, linecolor=BLUE_AX, linewidth=2, showgrid=False, zeroline=False,
                tickfont=dict(family=SANS, size=21, color=BLUE_AX), ticklabelstandoff=2,
                automargin=False),
    yaxis5=dict(overlaying="y3", anchor="free", position=fx(163), side="left", range=[-0.0386, 1.011],
                tickmode="array", tickvals=[0, 0.2, 0.4, 0.6, 0.8, 1.0],
                ticktext=["0.0", "0.2", "0.4", "0.6", "0.8", "1.0"],
                ticks="outside", ticklen=10, tickwidth=1.5, tickcolor=PINK_AX,
                showline=True, linecolor=PINK_AX, linewidth=1.5, showgrid=False, zeroline=False,
                tickfont=dict(family=SANS, size=21, color=PINK_AX), ticklabelstandoff=2,
                automargin=False),
    legend=dict(x=fx(387), y=fy(-8), **legend_style),
    legend2=dict(x=fx(1101), y=fy(7), **legend_style),
    legend3=dict(x=fx(826), y=fy(541), bgcolor="white", bordercolor="black", borderwidth=2,
                 font=dict(family=SANS, size=19, color="black"),
                 xanchor="left", yanchor="top", itemwidth=36, tracegroupgap=3),
)

# frame edges not covered by axis lines
fig.add_shape(type="line", xref="x domain", yref="y domain", x0=1, x1=1, y0=0, y1=1,
              line=dict(color="black", width=2))
fig.add_shape(type="line", xref="x3 domain", yref="y3 domain", x0=0, x1=1, y0=1, y1=1,
              line=dict(color="#333333", width=2))

annotations = [
    dict(text="Time [MST]", x=fx(511), y=fy(457), font=dict(family=SANS, size=20, color="black")),
    dict(text="Time [MST]", x=fx(1224), y=fy(468), font=dict(family=SANS, size=20, color="black")),
    dict(text="UTC", x=fx(875), y=fy(1020), font=dict(family=SANS, size=22, color="black")),
    dict(text="RF07", x=fx(660), y=fy(588), font=dict(family="Lato, Open Sans, sans-serif", size=56, color=RF_GREEN)),
    dict(text="SAGA HNO<sub>3</sub> [ppbv]", x=fx(85), y=fy(715), textangle=-90,
         font=dict(family=SANS, size=28, color=PINK_AX)),
    dict(text="Particle Nitrate [ug/m<sup>3</sup>]", x=fx(203), y=fy(716), textangle=-90,
         font=dict(family=SANS, size=28, color=BLUE_AX)),
]
for a in annotations:
    a.update(xref="paper", yref="paper", showarrow=False, xanchor="center", yanchor="middle")
fig.update_layout(annotations=annotations)

fig.write_html("out.html")
